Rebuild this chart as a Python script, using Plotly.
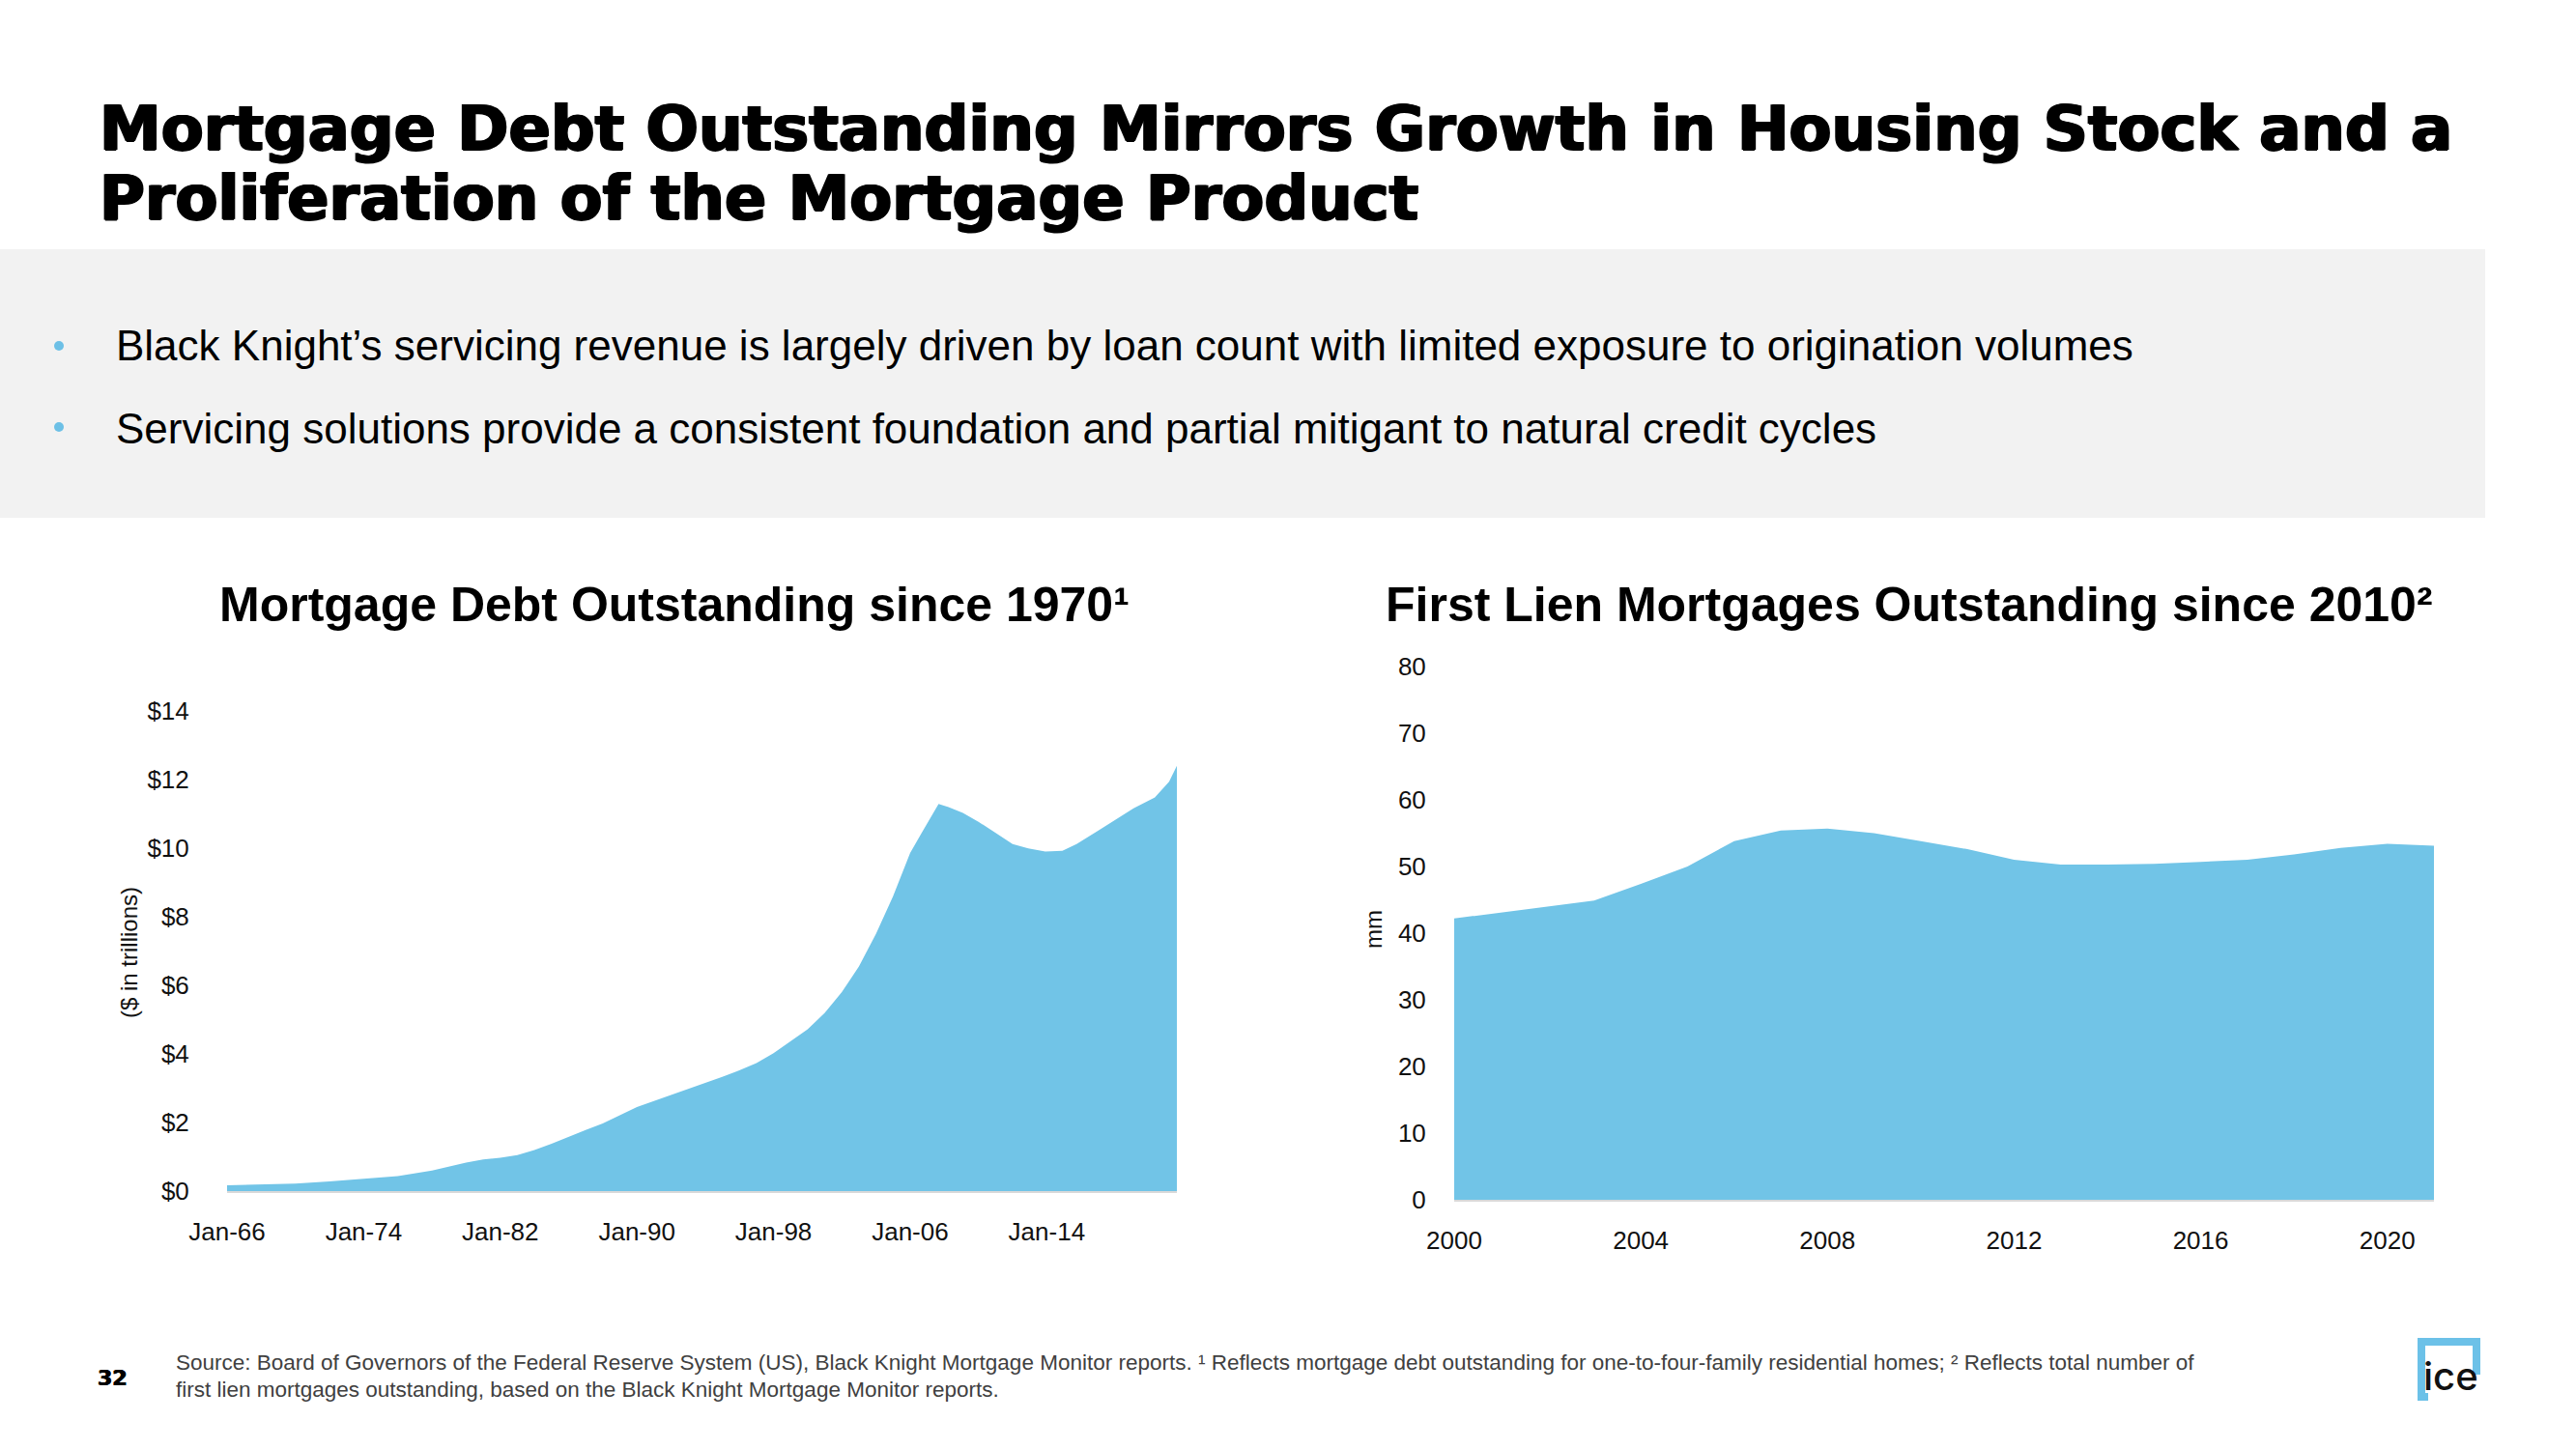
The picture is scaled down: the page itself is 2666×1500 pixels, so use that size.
import plotly.graph_objects as go

W, H = 2666, 1500

# ---------------- data ----------------
debt_dates = ["1966-01-01", "1968-01-01", "1970-01-01", "1972-01-01", "1974-01-01", "1976-01-01",
              "1978-01-01", "1979-01-01", "1980-01-01", "1981-01-01", "1982-01-01", "1983-01-01",
              "1984-01-01", "1985-01-01", "1986-01-01", "1987-01-01", "1988-01-01", "1989-01-01",
              "1990-01-01", "1991-01-01", "1992-01-01", "1993-01-01", "1994-01-01", "1995-01-01",
              "1996-01-01", "1997-01-01", "1998-01-01", "1999-01-01", "2000-01-01", "2001-01-01",
              "2002-01-01", "2003-01-01", "2004-01-01", "2005-01-01", "2006-01-01", "2006-09-01",
              "2007-09-01", "2008-04-01", "2009-02-01", "2010-01-01", "2011-01-01", "2012-01-01",
              "2012-12-01", "2013-12-01", "2014-12-01", "2015-10-01", "2017-01-01", "2018-01-01",
              "2019-02-01", "2020-05-01", "2021-03-01", "2021-08-15"]
debt_values = [0.17, 0.19, 0.22, 0.28, 0.36, 0.44,
               0.60, 0.72, 0.83, 0.92, 0.97, 1.05,
               1.20, 1.38, 1.59, 1.78, 1.97, 2.20,
               2.45, 2.63, 2.80, 2.98, 3.15, 3.33,
               3.52, 3.73, 4.02, 4.38, 4.72, 5.20,
               5.80, 6.55, 7.50, 8.60, 9.86, 10.44,
               11.29, 11.20, 11.03, 10.77, 10.44, 10.12,
               9.99, 9.90, 9.92, 10.12, 10.51, 10.83,
               11.16, 11.48, 11.94, 12.40]
debt_tickvals = ["1966-01-01", "1974-01-01", "1982-01-01", "1990-01-01", "1998-01-01", "2006-01-01", "2014-01-01"]
debt_yticks = [0, 2, 4, 6, 8, 10, 12, 14]
debt_yticktext = [f"${v}" for v in debt_yticks]

lien_years = list(range(2000, 2022))
lien_values = [42.2, 43.1, 44.1, 44.9, 47.4, 50.0, 53.8, 55.4, 55.7, 55.0, 53.8, 52.6,
               51.0, 50.3, 50.3, 50.4, 50.7, 51.0, 51.8, 52.8, 53.4, 53.1]
lien_xticks = [2000, 2004, 2008, 2012, 2016, 2020]
lien_yticks = [0, 10, 20, 30, 40, 50, 60, 70, 80]

BLUE = "#71c4e7"
TICKFONT = dict(family="Liberation Sans, Arial, sans-serif", size=26, color="#111111")


def px(x):
    return x / W


def py(y):
    return 1 - y / H


fig = go.Figure()
fig.add_trace(go.Scatter(x=debt_dates, y=debt_values, mode="lines", fill="tozeroy",
                         fillcolor=BLUE, line=dict(width=0, color=BLUE),
                         xaxis="x", yaxis="y", showlegend=False, hoverinfo="x+y"))
fig.add_trace(go.Scatter(x=lien_years, y=lien_values, mode="lines", fill="tozeroy",
                         fillcolor=BLUE, line=dict(width=0, color=BLUE),
                         xaxis="x2", yaxis="y2", showlegend=False, hoverinfo="x+y"))

axis_common = dict(showgrid=False, zeroline=False, tickfont=TICKFONT, ticks="outside",
                   tickcolor="rgba(0,0,0,0)", fixedrange=True, automargin=False)

fig.update_layout(
    width=W, height=H, autosize=False,
    margin=dict(l=0, r=0, t=0, b=0, pad=0),
    paper_bgcolor="white", plot_bgcolor="rgba(0,0,0,0)",
    xaxis=dict(domain=[px(235), px(1218)], type="date",
               range=["1966-01-01", "2021-08-15"], tickvals=debt_tickvals,
               tickformat="%b-%y", ticklen=18, showline=True, linecolor="#d9d9d9",
               linewidth=2, anchor="y", **axis_common),
    yaxis=dict(domain=[py(1233), py(736)], range=[0, 14], tickvals=debt_yticks,
               ticktext=debt_yticktext, ticklen=33, showline=False, anchor="x", **axis_common),
    xaxis2=dict(domain=[px(1505), px(2519)], range=[2000, 2021], tickvals=lien_xticks,
                ticklen=18, showline=True, linecolor="#d9d9d9", linewidth=2,
                anchor="y2", **axis_common),
    yaxis2=dict(domain=[py(1242), py(690)], range=[0, 80], tickvals=lien_yticks,
                ticklen=23, showline=False, anchor="x2", **axis_common),
)

shapes = [
    # grey bullet panel
    dict(type="rect", xref="paper", yref="paper", x0=0, x1=px(2572), y0=py(536), y1=py(258),
         fillcolor="#f2f2f2", line=dict(width=0), layer="below"),
    # bullet dots
    dict(type="circle", xref="paper", yref="paper", x0=px(56), x1=px(66), y0=py(363), y1=py(353),
         fillcolor="#6dc0e6", line=dict(width=0)),
    dict(type="circle", xref="paper", yref="paper", x0=px(56), x1=px(66), y0=py(447), y1=py(437),
         fillcolor="#6dc0e6", line=dict(width=0)),
    # ICE logo frame
    dict(type="path", xref="paper", yref="paper",
         path=f"M {px(2513)},{py(1446)} L {px(2506)},{py(1446)} L {px(2506)},{py(1389)} "
              f"L {px(2563)},{py(1389)} L {px(2563)},{py(1423)}",
         line=dict(color="#6cc1e8", width=8)),
]

HEAVY = "1.2px 0 0 #000, -1.2px 0 0 #000, 0 1px 0 #000"
annotations = []
TITLE_FONT = dict(family="DejaVu Sans, Liberation Sans, sans-serif", size=64, color="black",
                  weight=700, shadow=HEAVY)
annotations.append(dict(text="Mortgage Debt Outstanding Mirrors Growth in Housing Stock and a",
                        x=px(101), y=py(133), xanchor="left", yanchor="middle", showarrow=False,
                        xref="paper", yref="paper", font=TITLE_FONT))
annotations.append(dict(text="Proliferation of the Mortgage Product",
                        x=px(101), y=py(205), xanchor="left", yanchor="middle", showarrow=False,
                        xref="paper", yref="paper", font=TITLE_FONT))

annotations.append(dict(text="Black Knight’s servicing revenue is largely driven by loan count with limited exposure to origination volumes",
                        x=px(118), y=py(357), xanchor="left", yanchor="middle", showarrow=False,
                        xref="paper", yref="paper",
                        font=dict(family="Liberation Sans, Arial, sans-serif", size=44, color="black")))
annotations.append(dict(text="Servicing solutions provide a consistent foundation and partial mitigant to natural credit cycles",
                        x=px(118), y=py(443), xanchor="left", yanchor="middle", showarrow=False,
                        xref="paper", yref="paper",
                        font=dict(family="Liberation Sans, Arial, sans-serif", size=44, color="black")))

SUB_FONT = dict(family="Liberation Sans, Arial, sans-serif", size=50, color="black", weight=700)
annotations.append(dict(text="Mortgage Debt Outstanding since 1970¹",
                        x=px(698), y=py(626), xanchor="center", yanchor="middle", showarrow=False,
                        xref="paper", yref="paper", font=SUB_FONT))
annotations.append(dict(text="First Lien Mortgages Outstanding since 2010²",
                        x=px(1976), y=py(626), xanchor="center", yanchor="middle", showarrow=False,
                        xref="paper", yref="paper", font=SUB_FONT))

annotations.append(dict(text="($ in trillions)", x=px(133), y=py(986), textangle=-90,
                        xanchor="center", yanchor="middle", showarrow=False,
                        xref="paper", yref="paper", font=dict(TICKFONT, size=24)))
annotations.append(dict(text="mm", x=px(1421), y=py(962), textangle=-90,
                        xanchor="center", yanchor="middle", showarrow=False,
                        xref="paper", yref="paper", font=dict(TICKFONT, size=24)))

FOOT_FONT = dict(family="Liberation Sans, Arial, sans-serif", size=22.5, color="#404040")
annotations.append(dict(text="Source: Board of Governors of the Federal Reserve System (US), Black Knight Mortgage Monitor reports. ¹ Reflects mortgage debt outstanding for one-to-four-family residential homes; ² Reflects total number of",
                        x=px(180), y=py(1410), xanchor="left", yanchor="middle", showarrow=False,
                        xref="paper", yref="paper", font=FOOT_FONT))
annotations.append(dict(text="first lien mortgages outstanding, based on the Black Knight Mortgage Monitor reports.",
                        x=px(180), y=py(1438), xanchor="left", yanchor="middle", showarrow=False,
                        xref="paper", yref="paper", font=FOOT_FONT))
annotations.append(dict(text="32", x=px(116), y=py(1426), xanchor="center", yanchor="middle",
                        showarrow=False, xref="paper", yref="paper",
                        font=dict(family="DejaVu Sans, Liberation Sans, sans-serif", size=22, color="black",
                                  weight=700, shadow="0.6px 0 0 #000, -0.6px 0 0 #000")))
annotations.append(dict(text="ice", x=px(2567), y=py(1451), xanchor="right", yanchor="bottom",
                        showarrow=False, xref="paper", yref="paper",
                        font=dict(family="Inter, Liberation Sans, sans-serif", size=40, color="#111111", weight=500)))

fig.update_layout(shapes=shapes, annotations=annotations)
fig.write_html("out.html", config={"displayModeBar": False},
               post_script="document.body.style.margin='0';")
